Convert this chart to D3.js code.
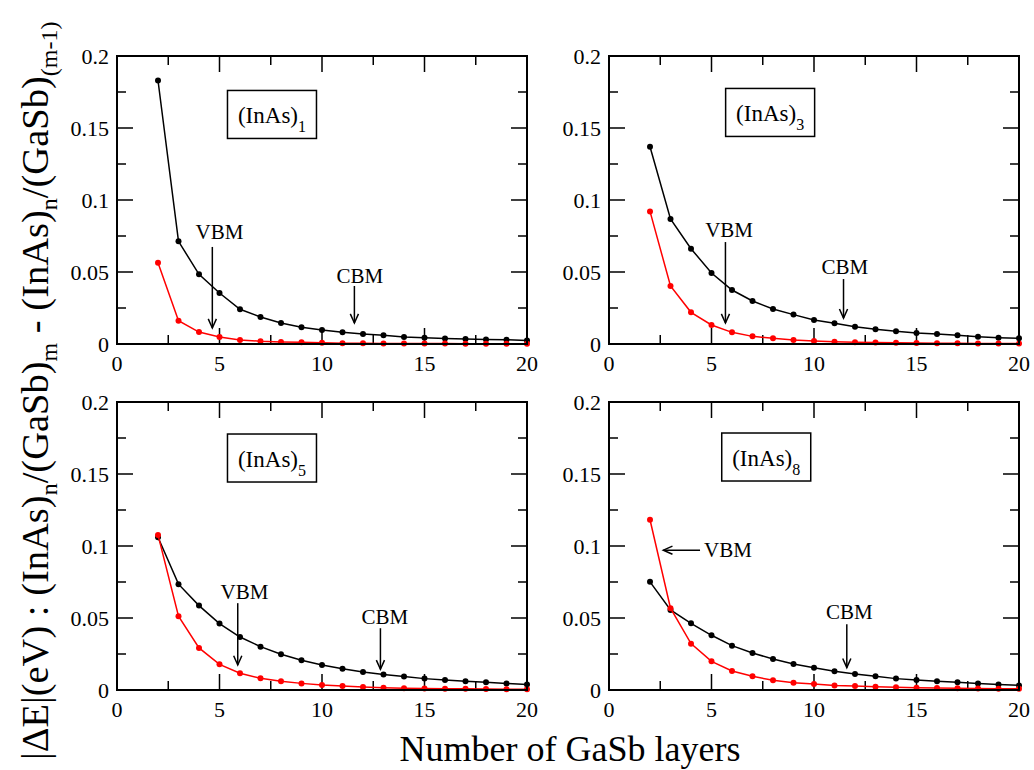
<!DOCTYPE html>
<html>
<head>
<meta charset="utf-8">
<script src="https://cdnjs.cloudflare.com/ajax/libs/d3/7.8.5/d3.min.js"></script>
<style>
	body { margin: 0; background: #fff; }
	text { fill: #000; white-space: pre; font-family: 'Liberation Serif', 'Times New Roman', serif; }
</style>
</head>
<body>
<svg id="plot" width="1034" height="770" viewBox="0 0 1034 770"></svg>
<script>

// number of GaSb layers (x values)
const layers = [2, 3, 4, 5, 6, 7, 8, 9, 10, 11, 12, 13, 14, 15, 16, 17, 18, 19, 20];

// |dE| in eV, black = CBM, red = VBM
const cbm_1 = [0.183, 0.0713, 0.0484, 0.0354, 0.0241, 0.0188, 0.0146, 0.0116, 0.0097, 0.0081, 0.0069, 0.006, 0.0049, 0.0044, 0.0039, 0.0035, 0.0032, 0.003, 0.0025];
const vbm_1 = [0.0565, 0.0162, 0.0083, 0.0049, 0.0028, 0.0019, 0.0014, 0.0012, 0.0008, 0.0006, 0.0005, 0.0004, 0.0003, 0.0003, 0.0003, 0.0002, 0.0002, 0.0002, 0.0002];

const cbm_3 = [0.137, 0.0868, 0.0662, 0.0493, 0.0375, 0.0299, 0.0243, 0.0204, 0.0167, 0.0144, 0.012, 0.0102, 0.0088, 0.0076, 0.0069, 0.006, 0.0051, 0.0044, 0.004];
const vbm_3 = [0.0921, 0.0403, 0.022, 0.0132, 0.0081, 0.0053, 0.004, 0.0028, 0.0021, 0.0016, 0.0012, 0.001, 0.0008, 0.0007, 0.0006, 0.0005, 0.0004, 0.0004, 0.0003];

const cbm_5 = [0.1061, 0.0735, 0.0586, 0.0461, 0.0368, 0.0301, 0.0248, 0.0206, 0.0174, 0.0148, 0.0125, 0.0107, 0.0093, 0.0079, 0.007, 0.006, 0.0053, 0.0046, 0.0039];
const vbm_5 = [0.1077, 0.0512, 0.0292, 0.0178, 0.0116, 0.0081, 0.006, 0.0046, 0.0035, 0.0028, 0.0021, 0.0016, 0.0013, 0.0011, 0.0009, 0.0008, 0.0007, 0.0006, 0.0005];

const cbm_8 = [0.0751, 0.0556, 0.0463, 0.038, 0.0308, 0.0257, 0.0215, 0.0181, 0.0155, 0.013, 0.0111, 0.0095, 0.0079, 0.007, 0.006, 0.0053, 0.0046, 0.0039, 0.0032];
const vbm_8 = [0.1182, 0.0568, 0.0322, 0.0199, 0.0132, 0.0095, 0.0067, 0.0051, 0.0042, 0.0032, 0.0028, 0.0023, 0.0019, 0.0016, 0.0014, 0.0012, 0.001, 0.0009, 0.0008];

const inas_counts = ['1', '3', '5', '8'];

const x_ticks = [0, 5, 10, 15, 20];
const x_tick_labels = ['0', '5', '10', '15', '20'];
const y_ticks = [0, 0.05, 0.1, 0.15, 0.2];
const y_tick_labels = ['0', '0.05', '0.1', '0.15', '0.2'];

// annotations, in data units: [x1, y1, x2, y2] arrow, [x, y] text
const vbm_arrows = [[4.65, 0.0674, 4.65, 0.0111], [5.68, 0.0708, 5.68, 0.0146], [5.89, 0.0603, 5.89, 0.0174], [4.44, 0.0971, 2.65, 0.0971]];
const vbm_texts = [[5.0, 0.0729, 'middle'], [5.86, 0.0743, 'middle'], [6.22, 0.0633, 'middle'], [4.64, 0.0927, 'start']];
const cbm_arrows = [[11.58, 0.0403, 11.58, 0.0146], [11.44, 0.0451, 11.44, 0.018], [12.85, 0.0429, 12.85, 0.0144], [11.6, 0.0457, 11.6, 0.0155]];
const cbm_texts = [[11.85, 0.0424], [11.5, 0.0486], [13.07, 0.0457], [11.73, 0.0494]];
const label_pos = [[7.56, 0.1594], [7.86, 0.1608], [7.56, 0.1611], [7.67, 0.1618]];


const svg = d3.select('#plot');

const panel_w = 410, panel_h = 288;
const col_x = [117, 609];
const row_y = [56, 402];

const cbm_all = [cbm_1, cbm_3, cbm_5, cbm_8];
const vbm_all = [vbm_1, vbm_3, vbm_5, vbm_8];

function drawArrow(g, x1, y1, x2, y2) {
	g.append('line')
		.attr('x1', x1).attr('y1', y1).attr('x2', x2).attr('y2', y2)
		.attr('stroke', '#000').attr('stroke-width', 1.5);
	const ang = Math.atan2(y2 - y1, x2 - x1);
	const len = 10, spread = 0.42;
	const p = [
		[x2 - len * Math.cos(ang - spread), y2 - len * Math.sin(ang - spread)],
		[x2, y2],
		[x2 - len * Math.cos(ang + spread), y2 - len * Math.sin(ang + spread)]
	];
	g.append('path')
		.attr('d', d3.line()(p))
		.attr('fill', 'none').attr('stroke', '#000').attr('stroke-width', 1.5);
}

for (let i = 0; i < 4; i++) {
	const left = col_x[i % 2];
	const top = row_y[Math.floor(i / 2)];

	const x = d3.scaleLinear().domain([0, 20]).range([left, left + panel_w]);
	const y = d3.scaleLinear().domain([0, 0.2]).range([top + panel_h, top]);

	const g = svg.append('g');

	// ticks on all four sides, pointing inwards
	const xMinor = d3.range(0, 20.01, 2.5);
	const yMinor = d3.range(0, 0.2001, 0.025);
	const major = 16, minor = 9;

	const tick_path = [];
	xMinor.forEach(v => {
		const len = (Math.abs(v % 5) < 1e-6) ? major : minor;
		tick_path.push(`M${x(v)},${y(0)}v${-len}`);
		tick_path.push(`M${x(v)},${y(0.2)}v${len}`);
	});
	yMinor.forEach(v => {
		const len = (Math.round(v * 1000) % 50 === 0) ? major : minor;
		tick_path.push(`M${x(0)},${y(v)}h${len}`);
		tick_path.push(`M${x(20)},${y(v)}h${-len}`);
	});
	g.append('path')
		.attr('d', tick_path.join(''))
		.attr('stroke', '#000').attr('stroke-width', 1.5).attr('fill', 'none');

	// tick labels
	g.selectAll('.xl').data(x_ticks).enter().append('text')
		.attr('x', d => x(d)).attr('y', y(0) + 27)
		.attr('text-anchor', 'middle').attr('font-size', 22)
		.text((d, k) => x_tick_labels[k]);

	g.selectAll('.yl').data(y_ticks).enter().append('text')
		.attr('x', x(0) - 8).attr('y', d => y(d) + 8)
		.attr('text-anchor', 'end').attr('font-size', 22)
		.text((d, k) => y_tick_labels[k]);

	// series
	const line = d3.line().x((d, k) => x(layers[k])).y(d => y(d));
	[[cbm_all[i], '#000'], [vbm_all[i], '#ff0000']].forEach(([vals, col]) => {
		g.append('path')
			.attr('d', line(vals))
			.attr('fill', 'none').attr('stroke', col).attr('stroke-width', 1.5);
		g.selectAll(null).data(vals).enter().append('circle')
			.attr('cx', (d, k) => x(layers[k])).attr('cy', d => y(d))
			.attr('r', 3).attr('fill', col);
	});

	// frame
	g.append('rect')
		.attr('x', x(0)).attr('y', y(0.2))
		.attr('width', panel_w).attr('height', panel_h)
		.attr('fill', 'none').attr('stroke', '#000').attr('stroke-width', 2);

	// VBM / CBM arrows
	const va = vbm_arrows[i];
	drawArrow(g, x(va[0]), y(va[1]), x(va[2]), y(va[3]));
	g.append('text')
		.attr('x', x(vbm_texts[i][0])).attr('y', y(vbm_texts[i][1]))
		.attr('text-anchor', vbm_texts[i][2]).attr('font-size', 21)
		.text('VBM');

	const ca = cbm_arrows[i];
	drawArrow(g, x(ca[0]), y(ca[1]), x(ca[2]), y(ca[3]));
	g.append('text')
		.attr('x', x(cbm_texts[i][0])).attr('y', y(cbm_texts[i][1]))
		.attr('text-anchor', 'middle').attr('font-size', 21)
		.text('CBM');

	// (InAs)_m label box
	const cx = x(label_pos[i][0]), cy = y(label_pos[i][1]);
	g.append('rect')
		.attr('x', cx - 44.5).attr('y', cy - 24)
		.attr('width', 89).attr('height', 48)
		.attr('fill', '#fff').attr('stroke', '#000').attr('stroke-width', 1.5);
	const lab = g.append('text')
		.attr('x', cx).attr('y', cy + 8.5)
		.attr('text-anchor', 'middle').attr('font-size', 23);
	lab.append('tspan').text('(InAs)');
	lab.append('tspan').attr('dy', 9).attr('font-size', 16).text(inas_counts[i]);
}

// axis titles
svg.append('text')
	.attr('x', 570).attr('y', 761)
	.attr('text-anchor', 'middle').attr('font-size', 36)
	.text('Number of GaSb layers');

const yt = svg.append('text')
	.attr('transform', 'translate(48,760) rotate(-90)')
	.attr('font-size', 38.5);
const parts = [
	['|\u0394E|(eV) : (InAs)', false], ['n', true], ['/(GaSb)', false], ['m', true],
	[' - (InAs)', false], ['n', true], ['/(GaSb)', false], ['(m-1)', true]
];
let sub = false;
parts.forEach(([txt, isSub]) => {
	const t = yt.append('tspan').text(txt);
	if (isSub && !sub) t.attr('dy', 9);
	if (!isSub && sub) t.attr('dy', -9);
	if (isSub) t.attr('font-size', 24);
	sub = isSub;
});

</script>
</body>
</html>
